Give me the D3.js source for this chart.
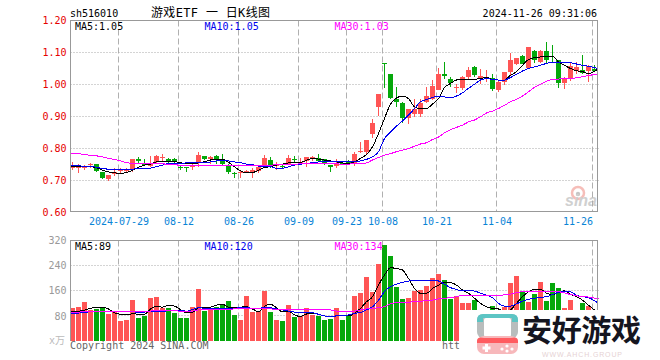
<!DOCTYPE html>
<html>
<head>
<meta charset="utf-8">
<style>
    html, body { margin: 0; padding: 0; background: #fff; }
    svg { display: block; }
    text { font-family: "DejaVu Sans Mono", "Noto Sans CJK SC", monospace; font-size: 10px; }
    .domain { display: none; }
</style>
</head>
<body>
<div id="chart"></div>
<script src="https://cdn.jsdelivr.net/npm/d3@7"></script>
<script>
const open = [.738,.740,.738,.748,.753,.726,.704,.719,.731,.730,.734,.768,.753,.746,.759,.771,.766,.766,.743,.741,.743,.758,.778,.766,.776,.761,.745,.724,.722,.724,.725,.730,.746,.764,.747,.746,.753,.766,.755,.761,.769,.770,.766,.748,.746,.755,.758,.753,.792,.789,.845,.930,1.066,1.032,.955,.941,.896,.909,.907,.946,.954,.984,1.032,1.016,.991,.989,1.022,1.054,1.018,1.023,1.021,.982,1.008,1.038,1.064,1.089,1.053,1.104,1.070,1.104,1.069,1.076,1.005,1.016,1.043,1.045,1.041,1.048];
const high = [.758,.753,.750,.755,.753,.726,.716,.738,.738,.738,.766,.772,.766,.776,.779,.784,.770,.770,.745,.741,.758,.788,.778,.778,.779,.782,.753,.727,.732,.732,.738,.748,.779,.772,.758,.748,.779,.776,.769,.774,.776,.782,.766,.748,.766,.758,.764,.790,.819,.828,.892,.970,1.066,1.034,.991,.946,.925,.956,.956,.991,1.014,1.052,1.070,1.024,1.003,1.026,1.055,1.057,1.047,1.045,1.032,1.014,1.039,1.099,1.084,1.092,1.117,1.107,1.107,1.132,1.123,1.078,1.024,1.066,1.071,1.092,1.060,1.060];
const low = [.734,.724,.732,.738,.726,.704,.699,.715,.722,.724,.727,.753,.745,.743,.753,.759,.753,.748,.732,.726,.734,.743,.764,.753,.751,.750,.720,.707,.709,.722,.707,.724,.743,.738,.734,.736,.748,.756,.751,.743,.761,.758,.748,.727,.738,.748,.751,.746,.786,.784,.833,.901,.988,.956,.930,.880,.876,.899,.897,.943,.951,.982,1.016,.993,.974,.984,1.018,1.022,1.003,1.007,.980,.977,.998,1.029,1.060,1.064,1.049,1.066,1.068,1.068,1.066,.990,.985,1.011,1.032,1.032,1.008,1.040];
const close = [.746,.745,.745,.753,.730,.709,.716,.727,.733,.734,.766,.762,.748,.755,.776,.772,.761,.758,.738,.739,.750,.779,.768,.775,.766,.753,.726,.722,.727,.729,.734,.741,.770,.746,.750,.741,.770,.764,.758,.772,.773,.762,.755,.743,.753,.751,.755,.784,.793,.826,.879,.970,1.063,.959,.946,.894,.925,.922,.941,.964,.995,1.032,1.026,1.005,.993,1.023,1.045,1.030,1.026,1.024,.985,1.008,1.039,1.076,1.082,1.064,1.117,1.078,1.104,1.076,1.067,1.005,1.019,1.058,1.055,1.036,1.057,1.043];

const priceMa5 = [.745,.743,.743,.743,.740,.732,.727,.724,.722,.725,.732,.741,.748,.751,.758,.760,.760,.759,.756,.752,.752,.755,.759,.764,.767,.766,.757,.743,.730,.725,.725,.732,.741,.743,.748,.751,.755,.756,.757,.763,.769,.767,.764,.761,.758,.755,.753,.758,.769,.781,.805,.847,.894,.939,.958,.964,.956,.930,.925,.925,.939,.956,.991,1.003,1.014,1.016,1.016,1.016,1.019,1.022,1.016,1.014,1.014,1.029,1.040,1.060,1.078,1.084,1.086,1.089,1.089,1.071,1.060,1.050,1.043,1.040,1.034,1.050];
const priceMa10 = [.746,.746,.744,.744,.741,.738,.735,.734,.734,.734,.735,.738,.738,.739,.743,.748,.753,.753,.753,.755,.755,.755,.756,.758,.761,.764,.761,.758,.756,.751,.749,.745,.743,.743,.738,.738,.743,.748,.751,.753,.756,.758,.759,.758,.758,.758,.758,.758,.761,.766,.774,.790,.831,.852,.870,.886,.904,.925,.946,.953,.959,.964,.961,.959,.964,.974,.988,1.001,1.014,1.018,1.016,1.014,1.014,1.022,1.032,1.042,1.050,1.055,1.060,1.066,1.070,1.070,1.070,1.068,1.064,1.060,1.057,1.050];
const priceMa30 = [.786,.784,.781,.779,.777,.774,.769,.766,.761,.756,.753,.753,.752,.752,.752,.752,.750,.749,.748,.748,.748,.748,.748,.748,.748,.748,.748,.748,.748,.748,.748,.748,.748,.748,.749,.750,.751,.751,.752,.752,.752,.753,.753,.753,.752,.751,.751,.753,.753,.755,.764,.772,.779,.784,.790,.795,.800,.807,.814,.818,.828,.836,.849,.859,.866,.873,.883,.889,.899,.911,.917,.925,.935,.946,.954,.964,.977,.991,1.001,1.010,1.016,1.017,1.018,1.019,1.021,1.024,1.028,1.033];

const volume = [105,108,124,99,102,108,86,91,64,67,130,73,80,137,140,105,105,90,73,73,108,165,96,99,108,118,127,83,67,143,92,95,159,92,67,64,114,76,80,105,83,80,67,70,105,67,80,143,153,204,156,245,305,270,172,134,137,159,162,175,200,213,194,134,143,121,121,130,85,80,111,85,108,184,207,156,124,149,188,127,184,169,105,130,85,121,111,95];
const volMa5 = [93,95,98,104,108,107,102,90,85,83,87,85,85,102,110,108,113,111,100,90,91,106,106,108,114,117,108,106,108,109,102,93,110,117,106,93,95,83,78,86,88,85,80,77,80,80,80,88,104,125,141,178,210,233,231,226,199,167,152,152,167,178,187,186,178,162,152,136,120,109,104,102,91,99,120,141,157,164,165,152,148,155,160,148,141,130,114,89];
const volMa10 = [88,89,91,93,93,93,93,93,93,93,93,91,92,95,95,95,96,96,97,95,100,106,104,103,102,102,102,103,108,108,103,102,108,106,102,99,95,92,91,91,90,85,80,77,80,81,83,88,91,99,109,130,157,173,181,187,191,193,194,193,194,191,181,170,164,160,160,159,152,146,138,120,111,111,118,127,133,136,139,141,148,155,159,157,146,141,138,120];
const volMa30 = [91,92,93,93,94,94,95,95,95,95,95,94,93,95,98,98,97,96,95,93,95,99,99,100,100,101,101,102,102,102,102,102,102,102,101,100,100,100,100,100,100,100,100,99,95,94,93,95,99,102,104,106,109,118,122,122,122,127,127,128,130,134,136,138,141,145,145,145,145,145,145,145,147,149,154,157,157,157,158,159,158,157,153,148,144,141,140,134];

const tickIndex = [8, 18, 28, 38, 46, 52, 61, 71, 87];
const tickDates = ["2024-07-29", "08-12", "08-26", "09-09", "09-23", "10-08", "10-21", "11-04", "11-26"];
const priceTicks = [1.2, 1.1, 1.0, 0.9, 0.8, 0.7, 0.6];
const volTicks = [320, 240, 160, 80];

const titleText = "游戏ETF 一 日K线图";
const symbolText = "sh516010";
const timeText = "2024-11-26 09:31:06";
const priceLegend = ["MA5:1.05", "MA10:1.05", "MA30:1.03"];
const volLegend = ["MA5:89", "MA10:120", "MA30:134"];

const RED = "#ff5555";
const GREEN = "#05a80b";
const MA_COLORS = ["#000000", "#0000ee", "#ff00ff"];
const LEGEND_X = [75, 204.5, 334.5];

const left = 70.5, right = 597.5, lineRight = 598.5;
const count = open.length;

const svg = d3.select("#chart").append("svg")
    .attr("width", 660)
    .attr("height", 360);

const x = d3.scaleLinear().domain([0, 88]).range([left, 598.5]);
const yPrice = d3.scaleLinear().domain([0.6, 1.2]).range([212.5, 20.5]);
const yVol = d3.scaleLinear().domain([0, 320]).range([341, 240.5]);

function center(i) {
    // the averages run from edge to edge of the frame
    if (i === 0) return left;
    if (i === count - 1) return lineRight;
    return x(i) + 2;
}

function drawGrid(y, top, bottom, values) {
    const grid = svg.append("g");

    grid.selectAll(".v")
        .data(tickIndex)
        .join("line")
        .attr("x1", d => x(d))
        .attr("x2", d => x(d))
        .attr("y1", top)
        .attr("y2", bottom)
        .attr("stroke", "#b0b0b0")
        .attr("stroke-dasharray", "6,3");

    grid.selectAll(".h")
        .data(values)
        .join("line")
        .attr("x1", left)
        .attr("x2", lineRight + 0.5)
        .attr("y1", d => Math.round(y(d) - 0.5) + 0.5)
        .attr("y2", d => Math.round(y(d) - 0.5) + 0.5)
        .attr("stroke", "#a8a8a8")
        .attr("stroke-dasharray", "1,2");
}

function drawFrame(top, bottom, bottomLine) {
    const frame = svg.append("g")
        .attr("stroke", "#999")
        .attr("fill", "none")
        .attr("shape-rendering", "crispEdges");

    frame.append("path")
        .attr("d", `M${left},${bottom}V${top}H${right}V${bottom}` + (bottomLine ? `H${left}` : ""));
}

function drawLines(y, seriesList) {
    seriesList.forEach((values, k) => {
        const generator = d3.line()
            .x((d, i) => center(i))
            .y(d => y(d))
            .curve(d3.curveMonotoneX);

        svg.append("path")
            .attr("d", generator(values))
            .attr("fill", "none")
            .attr("stroke", MA_COLORS[k])
            .attr("shape-rendering", "crispEdges");
    });
}

function drawLegend(labels, baseline) {
    labels.forEach((label, k) => {
        svg.append("text")
            .attr("x", LEGEND_X[k])
            .attr("y", baseline)
            .attr("fill", MA_COLORS[k])
            .text(label);
    });
}

// header
svg.append("text").attr("x", 70).attr("y", 17).attr("fill", "#000").text(symbolText);
svg.append("text").attr("x", 151).attr("y", 17).attr("fill", "#000").style("font-size", "12px").attr("textLength", 119).text(titleText);
svg.append("text").attr("x", 597).attr("y", 17).attr("fill", "#000").attr("text-anchor", "end").text(timeText);

// price panel
drawGrid(yPrice, 20.5, 211.5, priceTicks.slice(1, -1));

const sinaMark = svg.append("g").attr("opacity", 0.55);
sinaMark.append("circle").attr("cx", 578).attr("cy", 193).attr("r", 6).attr("fill", "none").attr("stroke", "#f08a80").attr("stroke-width", 2.5);
sinaMark.append("circle").attr("cx", 578).attr("cy", 194).attr("r", 2.2).attr("fill", "#999");
sinaMark.append("text").attr("x", 565).attr("y", 206).attr("fill", "#aaa")
    .style("font-family", "Liberation Sans").style("font-size", "16px").style("font-weight", "bold").style("font-style", "italic")
    .attr("textLength", 32).text("sina");

const candles = svg.append("g").attr("shape-rendering", "crispEdges");
const indices = d3.range(count);

candles.selectAll(".wick")
    .data(indices)
    .join("line")
    .attr("x1", i => x(i) + 2)
    .attr("x2", i => x(i) + 2)
    .attr("y1", i => yPrice(high[i]))
    .attr("y2", i => yPrice(low[i]))
    .attr("stroke", i => close[i] >= open[i] ? RED : GREEN);

candles.selectAll(".body")
    .data(indices)
    .join("rect")
    .attr("x", i => x(i) - 0.5)
    .attr("width", 5)
    .attr("y", i => yPrice(Math.max(open[i], close[i])))
    .attr("height", i => Math.max(1, Math.abs(yPrice(open[i]) - yPrice(close[i]))))
    .attr("fill", i => close[i] >= open[i] ? RED : GREEN);

drawLines(yPrice, [priceMa5, priceMa10, priceMa30]);
drawFrame(20.5, 211.5, true);
drawLegend(priceLegend, 30);

const priceAxis = d3.axisLeft(yPrice)
    .tickValues(priceTicks)
    .tickFormat(d3.format(".2f"))
    .tickSize(0)
    .tickPadding(4);

svg.append("g")
    .attr("transform", `translate(${left},0)`)
    .call(priceAxis)
    .call(g => g.selectAll("text").attr("fill", "#e60000").style("font-size", "10px").style("font-family", "DejaVu Sans Mono"));

const dateAxis = d3.axisBottom(x)
    .tickValues(tickIndex)
    .tickFormat((d, i) => tickDates[i])
    .tickSize(0)
    .tickPadding(6);

svg.append("g")
    .attr("transform", "translate(0,212)")
    .call(dateAxis)
    .call(g => g.selectAll("text").attr("fill", "#0a84d6").style("font-size", "10px").style("font-family", "DejaVu Sans Mono"))
    .call(g => g.selectAll("text").filter(d => d === 87).attr("dx", -15));

// volume panel
drawGrid(yVol, 240.5, 341, volTicks.slice(1));

svg.append("g")
    .attr("shape-rendering", "crispEdges")
    .selectAll("rect")
    .data(volume)
    .join("rect")
    .attr("x", (d, i) => x(i) - 0.5)
    .attr("width", 5)
    .attr("y", d => yVol(d))
    .attr("height", d => yVol(0) - yVol(d))
    .attr("fill", (d, i) => close[i] >= open[i] ? RED : GREEN);

drawLines(yVol, [volMa5, volMa10, volMa30]);
drawFrame(240.5, 341, false);
drawLegend(volLegend, 250);

const volAxis = d3.axisLeft(yVol)
    .tickValues(volTicks)
    .tickFormat(d3.format("d"))
    .tickSize(0)
    .tickPadding(4);

svg.append("g")
    .attr("transform", `translate(${left},0)`)
    .call(volAxis)
    .call(g => g.selectAll("text").attr("fill", "#999").style("font-size", "10px").style("font-family", "DejaVu Sans Mono"));

svg.append("text").attr("x", 49).attr("y", 344).attr("fill", "#bbb").text("x万");
svg.append("text").attr("x", 70).attr("y", 349).attr("fill", "#666").text("Copyright 2024 SINA.COM");
svg.append("text").attr("x", 442).attr("y", 349).attr("fill", "#666").text("htt");

// site stamp laid over the bottom right corner
svg.append("rect").attr("x", 459.5).attr("y", 310).attr("width", 200.5).attr("height", 50).attr("fill", "#fff");

const stamp = svg.append("g");
stamp.append("rect").attr("x", 477).attr("y", 314).attr("width", 41).attr("height", 24).attr("rx", 6).attr("fill", "#b9bdbd");
stamp.append("path").attr("d", "M477,322V320Q477,314 483,314H512Q518,314 518,320V322H512V318H483V322Z").attr("fill", "#5cc5c4");
stamp.append("rect").attr("x", 484).attr("y", 318).attr("width", 27).attr("height", 19).attr("rx", 2).attr("fill", "#fff");
stamp.append("rect").attr("x", 477).attr("y", 336).attr("width", 41).attr("height", 18).attr("rx", 7).attr("fill", "#f7b8bb");
stamp.append("path").attr("d", "M477,343V341Q477,336 484,338H511Q518,336 518,341V343Z").attr("fill", "#ff5c60");
stamp.append("path").attr("d", "M485,344h3v2.5h2.5v3h-2.5v2.5h-3v-2.5h-2.5v-3h2.5z").attr("fill", "#fff");
stamp.selectAll(".dot")
    .data([[502, 349], [507, 346], [507, 351], [512, 349]])
    .join("circle")
    .attr("cx", d => d[0])
    .attr("cy", d => d[1])
    .attr("r", 1.6)
    .attr("fill", "#fff");

stamp.append("text").attr("x", 522).attr("y", 341).attr("fill", "#15151f")
    .style("font-family", "Noto Sans CJK SC").style("font-size", "30px").style("font-weight", "bold")
    .attr("textLength", 119).text("安好游戏");
stamp.append("text").attr("x", 542).attr("y", 356.5).attr("fill", "#e6d2d4")
    .style("font-family", "Liberation Sans").style("font-size", "7px")
    .attr("textLength", 80).text("WWW.AHCH.GROUP");
</script>
</body>
</html>
